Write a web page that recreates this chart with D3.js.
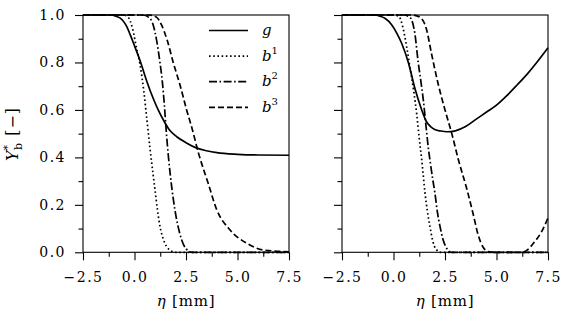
<!DOCTYPE html>
<html>
<head>
  <meta charset="utf-8">
  <title>Y_b* profiles</title>
  <script src="https://cdn.jsdelivr.net/npm/d3@7"></script>
  <style>
    body { margin: 0; background: #fff; }
    text { font-family: "DejaVu Serif", serif; fill: #000; }
  </style>
</head>
<body>
  <svg width="570" height="323"></svg>
  <script>
    // ticks
    const xTicks = [-2.5, 0.0, 2.5, 5.0, 7.5];
    const xMinor = [-1.25, 1.25, 3.75, 6.25];
    const yTicks = [0.0, 0.2, 0.4, 0.6, 0.8, 1.0];
    const yMinor = [0.1, 0.3, 0.5, 0.7, 0.9];

    // left panel, [eta, Y]
    const leftG = [[-2.5, 1], [-1.2, 1], [-0.9, 0.995], [-0.6, 0.98], [-0.4, 0.955], [-0.2, 0.915],
      [0.0, 0.87], [0.3, 0.80], [0.6, 0.72], [0.9, 0.65], [1.15, 0.60], [1.45, 0.55], [1.7, 0.515],
      [2.05, 0.487], [2.5, 0.462], [3.0, 0.44], [3.5, 0.428], [4.0, 0.42], [5.0, 0.413], [6.0, 0.41], [7.5, 0.409]];
    const leftB1 = [[-2.5, 1], [-0.5, 1], [-0.3, 0.99], [-0.1, 0.945], [0.1, 0.86], [0.27, 0.79],
      [0.45, 0.68], [0.6, 0.56], [0.75, 0.44], [0.9, 0.33], [1.0, 0.26], [1.12, 0.175], [1.24, 0.108],
      [1.4, 0.055], [1.56, 0.024], [1.75, 0.007], [2.0, 0], [7.5, 0]];
    const leftB2 = [[-2.5, 1], [0.4, 1], [0.7, 0.99], [0.9, 0.96], [1.08, 0.89], [1.22, 0.81],
      [1.35, 0.72], [1.45, 0.62], [1.55, 0.50], [1.65, 0.40], [1.8, 0.28], [1.95, 0.185],
      [2.1, 0.115], [2.3, 0.05], [2.5, 0.015], [2.8, 0], [7.5, 0]];
    const leftB3 = [[-2.5, 1], [0.7, 1], [1.08, 0.99], [1.3, 0.96], [1.6, 0.89], [1.88, 0.80],
      [2.21, 0.705], [2.53, 0.60], [2.8, 0.52], [3.1, 0.42], [3.58, 0.29], [3.99, 0.18],
      [4.64, 0.094], [5.45, 0.038], [6.25, 0.01], [7.5, 0.002]];

    // right panel, [eta, Y]
    const rightG = [[-2.5, 1], [-0.9, 1], [-0.66, 0.995], [-0.4, 0.985], [-0.1, 0.96], [0.15, 0.925],
      [0.4, 0.88], [0.72, 0.80], [1.04, 0.69], [1.37, 0.60], [1.6, 0.55], [1.8, 0.53], [2.0, 0.518],
      [2.3, 0.511], [2.6, 0.508], [3.0, 0.512], [3.5, 0.53], [4.0, 0.56], [4.5, 0.59], [5.0, 0.62],
      [5.5, 0.66], [6.0, 0.705], [6.5, 0.752], [7.0, 0.805], [7.5, 0.862]];
    const rightB1 = [[-2.5, 1], [0.0, 1], [0.25, 0.995], [0.45, 0.95], [0.65, 0.86], [0.8, 0.78],
      [0.98, 0.68], [1.13, 0.58], [1.25, 0.48], [1.37, 0.39], [1.53, 0.25], [1.65, 0.17],
      [1.77, 0.108], [1.9, 0.05], [2.05, 0.015], [2.3, 0], [7.5, 0]];
    const rightB2 = [[-2.5, 1], [0.5, 1], [0.8, 0.99], [1.04, 0.92], [1.2, 0.80], [1.33, 0.72],
      [1.45, 0.64], [1.58, 0.53], [1.69, 0.44], [1.8, 0.37], [1.9, 0.31], [2.01, 0.25], [2.13, 0.17],
      [2.26, 0.108], [2.4, 0.055], [2.58, 0.017], [2.8, 0], [7.5, 0]];
    const rightB3 = [[-2.5, 1], [0.9, 1], [1.29, 0.99], [1.6, 0.94], [1.85, 0.835], [2.18, 0.705],
      [2.5, 0.60], [2.83, 0.50], [3.15, 0.39], [3.55, 0.27], [3.87, 0.16], [4.12, 0.07], [4.36, 0.02],
      [4.6, 0.003], [5.0, 0], [6.2, 0], [6.5, 0.01], [6.79, 0.038], [7.19, 0.087], [7.5, 0.145]];

    const seriesNames = ["g", "b1", "b2", "b3"];
    const dashes = { g: null, b1: "1.6,2.6", b2: "8,2.5,1.6,2.5", b3: "6,3" };

    const panels = [
      { x0: 83, labels: true, data: { g: leftG, b1: leftB1, b2: leftB2, b3: leftB3 } },
      { x0: 342, labels: false, data: { g: rightG, b1: rightB1, b2: rightB2, b3: rightB3 } }
    ];

    const svg = d3.select("svg");
    const plotTop = 15, h = 237.3, w = 206;

    const y = d3.scaleLinear().domain([0, 1]).range([plotTop + h, plotTop]);

    panels.forEach(p => {
      const x = d3.scaleLinear().domain([-2.5, 7.5]).range([p.x0, p.x0 + w]);
      const g = svg.append("g");

      // axes
      g.append("g").attr("transform", `translate(0,${plotTop + h})`)
        .call(d3.axisBottom(x).tickValues(xTicks).tickSize(8).tickPadding(12)
          .tickFormat(d3.format(".1f")));
      g.append("g").attr("transform", `translate(0,${plotTop + h})`)
        .call(d3.axisBottom(x).tickValues(xMinor).tickSize(4.5).tickFormat(""));
      g.append("g").attr("transform", `translate(${p.x0},0)`)
        .call(d3.axisLeft(y).tickValues(yTicks).tickSize(8).tickPadding(9)
          .tickFormat(p.labels ? d3.format(".1f") : ""));
      g.append("g").attr("transform", `translate(${p.x0},0)`)
        .call(d3.axisLeft(y).tickValues(yMinor).tickSize(4.5).tickFormat(""));

      g.selectAll(".domain").remove();
      g.selectAll(".tick line").attr("stroke", "#000").attr("stroke-width", 1.1);
      g.selectAll(".tick text").attr("font-size", 14).attr("letter-spacing", 1.5)
        .attr("font-family", "DejaVu Serif, serif");

      // frame
      g.append("rect").attr("x", p.x0).attr("y", plotTop).attr("width", w).attr("height", h)
        .attr("fill", "none").attr("stroke", "#000").attr("stroke-width", 1.1);

      // curves
      const line = d3.line().x(d => x(d[0])).y(d => y(d[1])).curve(d3.curveMonotoneX);
      seriesNames.forEach(name => {
        g.append("path").datum(p.data[name])
          .attr("d", line)
          .attr("fill", "none")
          .attr("stroke", "#000")
          .attr("stroke-width", 1.7)
          .attr("stroke-dasharray", dashes[name]);
      });

      // x label
      const xl = g.append("text").attr("x", p.x0 + w / 2).attr("y", 306)
        .attr("text-anchor", "middle").attr("font-size", 15).attr("letter-spacing", 0.8);
      xl.append("tspan").attr("font-style", "italic").text("η");
      xl.append("tspan").text(" [mm]");
    });

    // y label
    const yl = svg.append("text").attr("transform", "translate(18,134) rotate(-90)")
      .attr("text-anchor", "middle").attr("font-size", 16).attr("letter-spacing", 1);
    yl.append("tspan").attr("font-style", "italic").text("Y");
    yl.append("tspan").attr("font-size", 11).attr("dy", -7).attr("dx", -1).text("*");
    yl.append("tspan").attr("font-size", 11).attr("dy", 11).attr("dx", -6).text("b");
    yl.append("tspan").attr("dy", -4).text(" [−]");

    // legend
    const legendRows = [
      { name: "g", base: "g", sup: "" },
      { name: "b1", base: "b", sup: "1" },
      { name: "b2", base: "b", sup: "2" },
      { name: "b3", base: "b", sup: "3" }
    ];
    const leg = svg.append("g");
    legendRows.forEach((r, i) => {
      const ly = 30.5 + i * 25.6;
      leg.append("line").attr("x1", 209).attr("x2", 248).attr("y1", ly).attr("y2", ly)
        .attr("stroke", "#000").attr("stroke-width", 1.7)
        .attr("stroke-dasharray", dashes[r.name]);
      const t = leg.append("text").attr("x", 262).attr("y", ly + 4.5).attr("font-size", 15);
      t.append("tspan").attr("font-style", "italic").text(r.base);
      if (r.sup) t.append("tspan").attr("font-size", 10).attr("dy", -7).text(r.sup);
    });
  </script>
</body>
</html>
